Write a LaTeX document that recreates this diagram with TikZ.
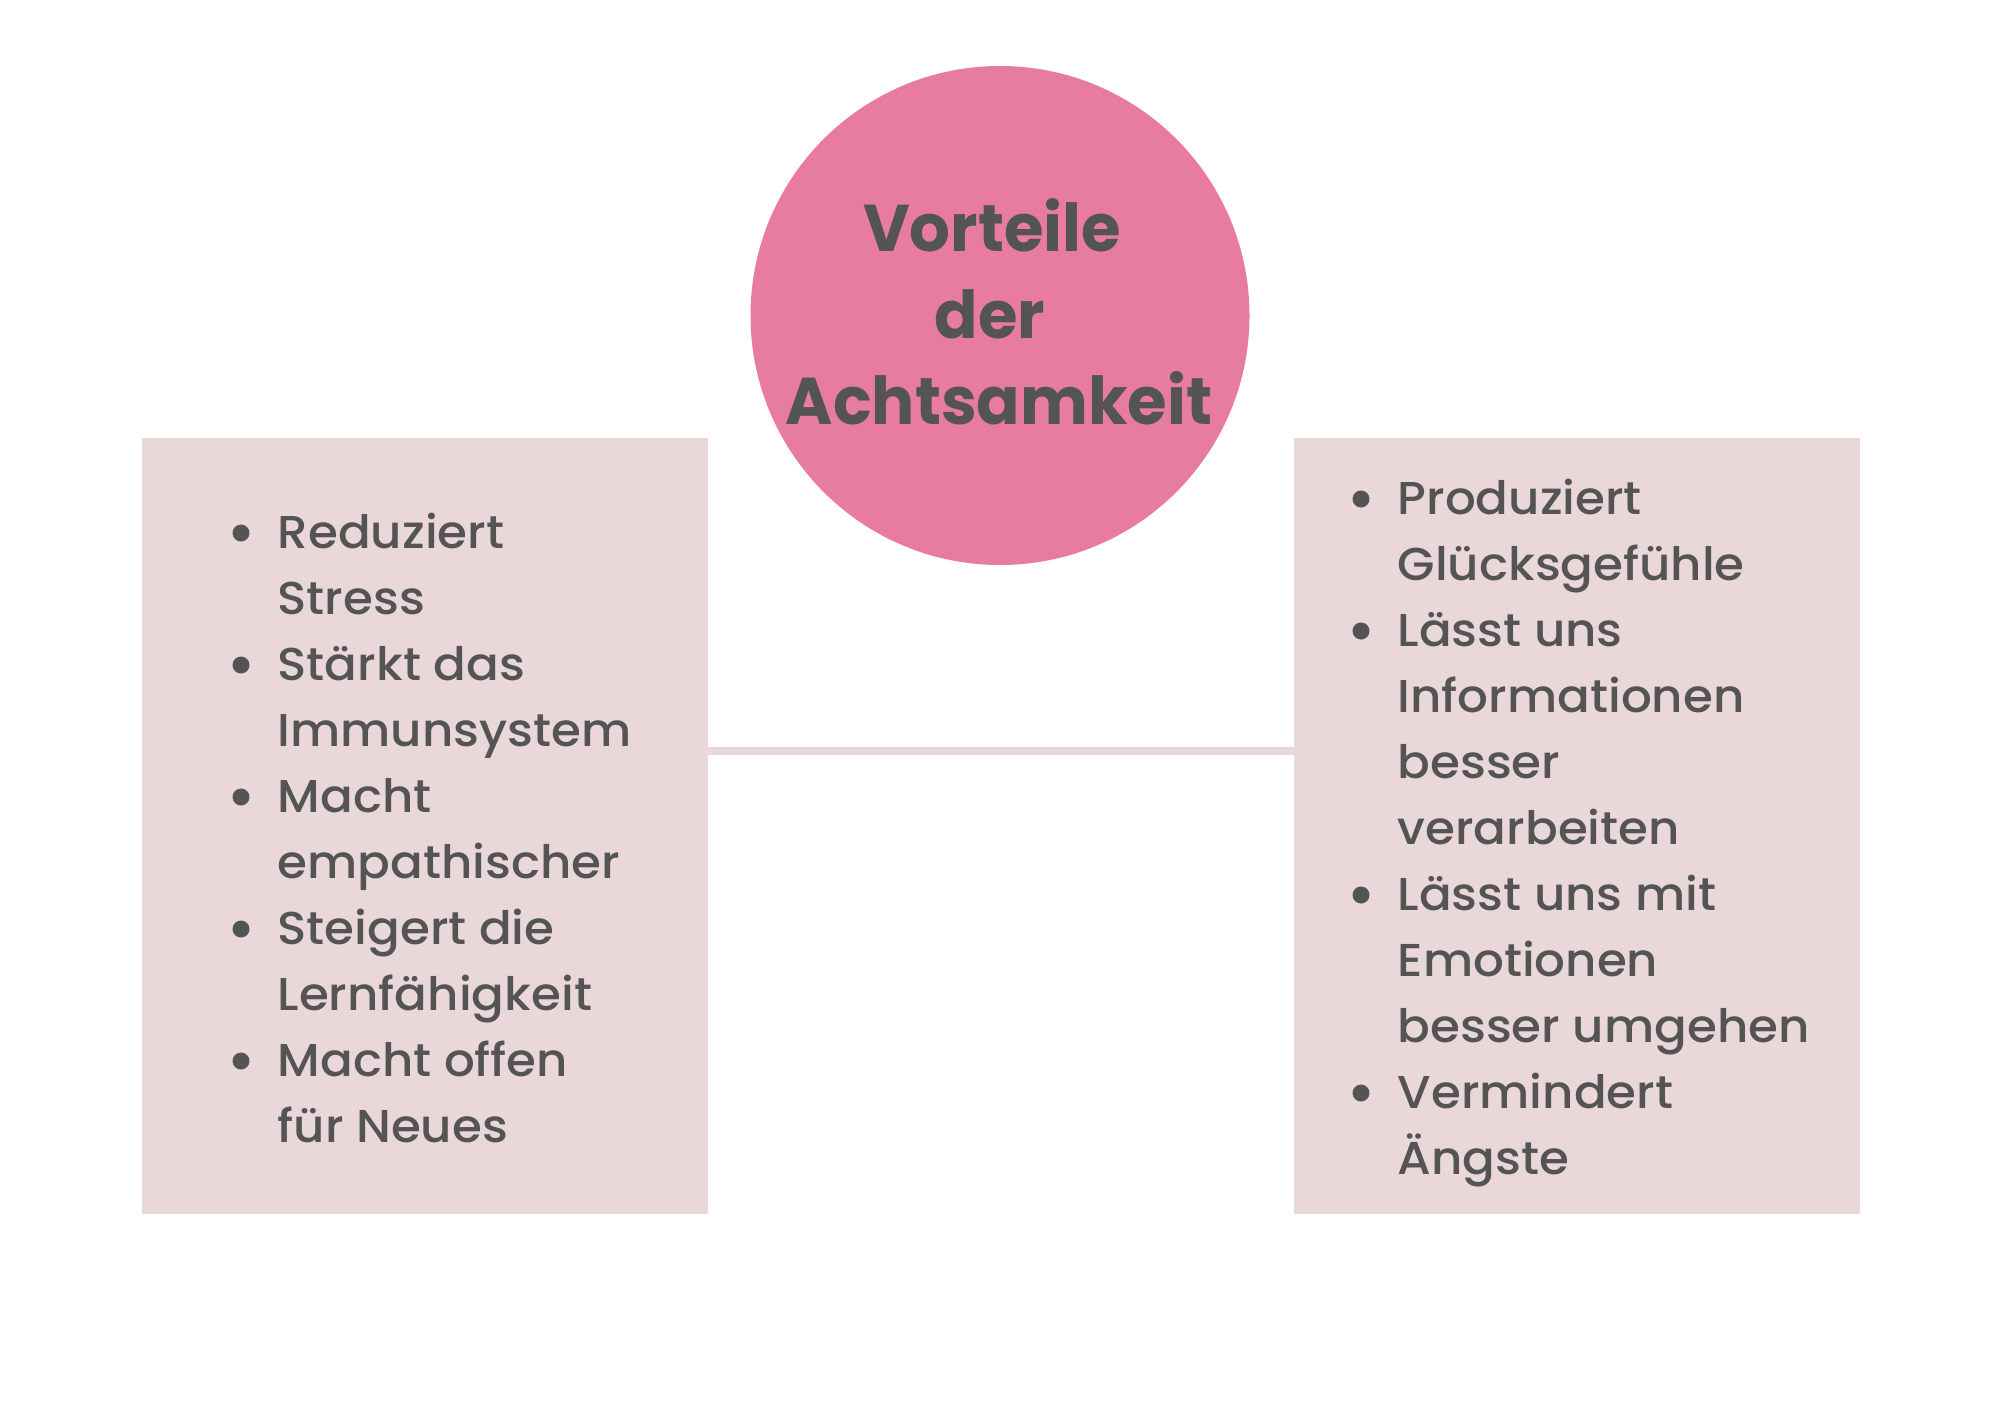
\documentclass[tikz,border=0pt]{standalone}
\usepackage{fontspec}
\setmainfont{Poppins}
\IfFontExistsTF{Poppins Medium}{\newfontfamily\bodyfont{Poppins Medium}[FakeStretch=1.05]}{\newfontfamily\bodyfont{Poppins}[FakeStretch=1.05,FakeBold=0.8]}
\IfFontExistsTF{Poppins Bold}{\newfontfamily\headfont{Poppins Bold}[FakeStretch=0.97]}{\newfontfamily\headfont{Poppins}[FakeBold=2,FakeStretch=0.97]}
\usetikzlibrary{positioning}

\definecolor{badgepink}{HTML}{E77BA1}
\definecolor{panelrose}{HTML}{EAD7DA}
\definecolor{inkgrey}{HTML}{545454}

\begin{document}
\begin{tikzpicture}[node distance=5.85cm,
	badge/.style={circle, fill=badgepink, minimum size=4.99cm, inner sep=0},
	panel/.style={fill=panelrose, minimum width=5.66cm, minimum height=7.76cm, inner sep=0},
	headline/.style={anchor=base, inner sep=0, text=inkgrey, font=\headfont\fontsize{18.8}{22}\selectfont},
	entry/.style={anchor=base west, inner sep=0, text=inkgrey, font=\bodyfont\fontsize{13.1}{16}\selectfont},
	dot/.style={fill=inkgrey},
	link/.style={draw=panelrose, line width=0.085cm, line cap=round}]
	% page
	\fill[white] (0,0) rectangle (20,-14.14);
	\useasboundingbox (0,0) rectangle (20,-14.14);

	% Panels and link
	\node [panel] (leftbox) at (4.245,-8.26) {};
	\node [panel] (rightbox) [right=of leftbox] {};
	\draw [link] ([yshift=-3.135cm]leftbox.north east) -- ([yshift=-3.135cm]rightbox.north west);

	% Title badge
	\node [badge] (badge) at (10.00,-3.155) {};
	\node [headline] (t1) at (9.92,-2.51) {Vorteile};
	\node [headline] (t2) at (9.90,-3.38) {der};
	\node [headline] (t3) at (9.99,-4.24) {Achtsamkeit};

	% Left list
	\foreach \txt [count=\i from 0] in {Reduziert, Stress, Stärkt das, Immunsystem, Macht,
		empathischer, Steigert die, Lernfähigkeit, Macht offen, für Neues}
		\node [entry] (l\i) at (2.77,{-5.48-0.66*\i}) {\txt};
	\foreach \i in {0,2,4,6,8}
		\fill [dot] ([xshift=-0.36cm,yshift=0.15cm]l\i.base west) circle (0.085);

	% Right list
	\foreach \txt [count=\i from 0] in {Produziert, Glücksgefühle, Lässt uns, Informationen, besser,
		verarbeiten, Lässt uns mit, Emotionen, besser umgehen, Vermindert, Ängste}
		\node [entry] (r\i) at (13.97,{-5.14-0.66*\i}) {\txt};
	\foreach \i in {0,2,6,9}
		\fill [dot] ([xshift=-0.36cm,yshift=0.15cm]r\i.base west) circle (0.085);
\end{tikzpicture}
\end{document}
